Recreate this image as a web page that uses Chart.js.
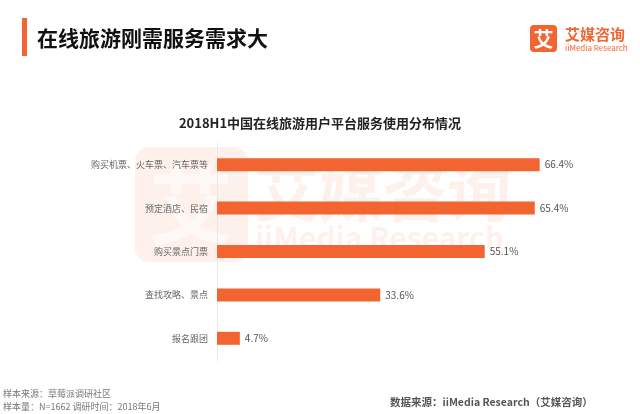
<!DOCTYPE html>
<html>
<head>
<meta charset="utf-8">
<script src="https://cdn.jsdelivr.net/npm/chart.js@4/dist/chart.umd.min.js"></script>
<style>
  html, body { margin: 0; padding: 0; background: #fff; }
  #wrap { width: 640px; height: 414px; position: relative; }
</style>
</head>
<body>
<div id="wrap"><canvas id="usage"></canvas></div>
<script>
const categories = ['购买机票、火车票、汽车票等', '预定酒店、民宿', '购买景点门票', '查找攻略、景点', '报名跟团'];
const usageShare = [66.4, 65.4, 55.1, 33.6, 4.7];

const FONT = '"Noto Sans CJK SC", "Noto Sans", sans-serif';
const ORANGE = '#f26430';

// header, logo, watermark and footer texts
const decorPlugin = {
    id: 'decor',
    beforeDraw(chart) {
        const ctx = chart.ctx;
        ctx.save();
        // faint watermark behind everything
        ctx.fillStyle = 'rgba(242, 100, 48, 0.09)';
        ctx.beginPath();
        ctx.roundRect(135, 147, 113, 115, 14);
        ctx.fill();
        ctx.fillStyle = '#fff';
        ctx.font = 'bold 84px ' + FONT;
        ctx.textAlign = 'center';
        ctx.textBaseline = 'middle';
        ctx.globalAlpha = 0.6;
        ctx.fillText('艾', 191, 206);
        ctx.globalAlpha = 1;
        ctx.fillStyle = 'rgba(242, 100, 48, 0.09)';
        ctx.font = 'bold 64px ' + FONT;
        ctx.textAlign = 'left';
        ctx.fillText('艾媒咨询', 255, 192);
        ctx.font = 'bold 30px ' + FONT;
        ctx.fillText('iiMedia Research', 255, 238);
        ctx.restore();
    },
    afterDraw(chart) {
        const ctx = chart.ctx;
        ctx.save();
        // header bar + title
        ctx.fillStyle = ORANGE;
        ctx.fillRect(22, 18, 5, 38);
        ctx.fillStyle = '#111';
        ctx.font = 'bold 21px ' + FONT;
        ctx.textBaseline = 'middle';
        ctx.textAlign = 'left';
        ctx.fillText('在线旅游刚需服务需求大', 37, 38);

        // logo
        ctx.fillStyle = ORANGE;
        ctx.beginPath();
        ctx.roundRect(530, 25, 27, 27, 4);
        ctx.fill();
        ctx.fillStyle = '#fff';
        ctx.font = 'bold 20px ' + FONT;
        ctx.textAlign = 'center';
        ctx.fillText('艾', 543.5, 39);
        ctx.fillStyle = ORANGE;
        ctx.textAlign = 'left';
        ctx.font = 'bold 15px ' + FONT;
        ctx.fillText('艾媒咨询', 565, 34);
        ctx.font = '8px ' + FONT;
        ctx.fillText('iiMedia Research', 565, 48);

        // chart title
        ctx.fillStyle = '#222';
        ctx.font = 'bold 13px ' + FONT;
        ctx.textAlign = 'center';
        ctx.fillText('2018H1中国在线旅游用户平台服务使用分布情况', 320, 123);

        // footer
        ctx.fillStyle = '#777';
        ctx.font = '9px ' + FONT;
        ctx.textAlign = 'left';
        ctx.fillText('样本来源：草莓派调研社区', 3, 394);
        ctx.fillText('样本量：N=1662 调研时间：2018年6月', 3, 407);
        ctx.fillStyle = '#555';
        ctx.font = 'bold 10.5px ' + FONT;
        ctx.fillText('数据来源：iiMedia Research（艾媒咨询）', 390, 402);
        ctx.restore();
    }
};

// percentage labels at bar ends
const valueLabels = {
    id: 'valueLabels',
    afterDatasetsDraw(chart) {
        const ctx = chart.ctx;
        const meta = chart.getDatasetMeta(0);
        ctx.save();
        ctx.fillStyle = '#555';
        ctx.font = '10px ' + FONT;
        ctx.textAlign = 'left';
        ctx.textBaseline = 'middle';
        meta.data.forEach((bar, i) => {
            ctx.fillText(usageShare[i].toFixed(1) + '%', bar.x + 5, bar.y);
        });
        ctx.restore();
    }
};

new Chart(document.getElementById('usage'), {
    type: 'bar',
    data: {
        labels: categories,
        datasets: [{
            data: usageShare,
            backgroundColor: ORANGE,
            categoryPercentage: 0.6,
            barPercentage: 0.5
        }]
    },
    options: {
        indexAxis: 'y',
        responsive: true,
        maintainAspectRatio: false,
        animation: false,
        layout: { padding: { top: 143, bottom: 54, left: 0, right: 10 } },
        plugins: {
            legend: { display: false },
            tooltip: { enabled: false },
            title: { display: false }
        },
        scales: {
            x: {
                display: false,
                min: 0,
                max: 85
            },
            y: {
                afterFit: scale => { scale.width = 217; },
                grid: { display: false, drawTicks: false },
                border: { display: true, color: '#e8e8e8' },
                ticks: {
                    color: '#666',
                    font: { family: FONT, size: 9 },
                    padding: 9
                }
            }
        }
    },
    plugins: [decorPlugin, valueLabels]
});
</script>
</body>
</html>
